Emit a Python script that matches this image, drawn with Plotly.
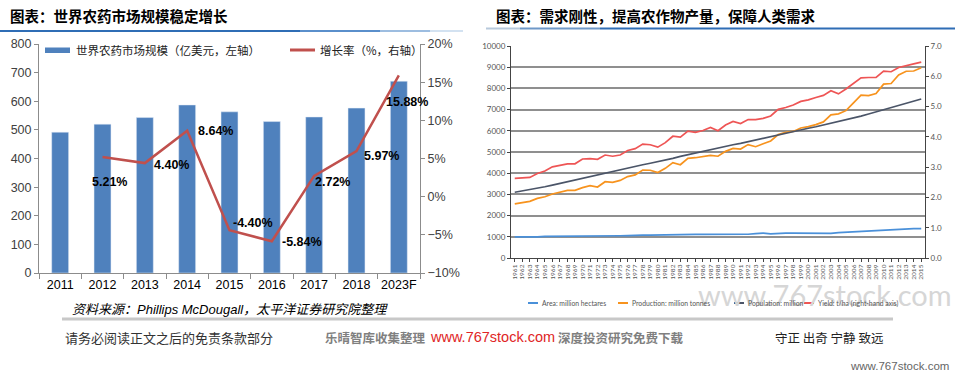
import plotly.graph_objects as go

# ---------------- data: left chart ----------------
left_categories = ["2011", "2012", "2013", "2014", "2015", "2016", "2017", "2018", "2023F"]
market_size = [492, 520, 543, 587, 563, 529, 545, 576, 670]          # 亿美元
growth_categories = ["2012", "2013", "2014", "2015", "2016", "2017", "2018", "2023F"]
growth_rate = [5.21, 4.40, 8.64, -4.40, -5.84, 2.72, 5.97, 15.88]    # %
left_series_names = ["世界农药市场规模（亿美元，左轴）", "增长率（%，右轴）"]

# ---------------- data: right chart ----------------
right_years = [str(y) for y in range(1961, 2016)]
area = [1000, 990, 990, 1000, 1020, 1020, 1020, 1020, 1020, 1020,
        1020, 1030, 1030, 1020, 1050, 1060, 1080, 1080, 1080, 1090,
        1090, 1110, 1110, 1110, 1110, 1110, 1110, 1110, 1140, 1140,
        1140, 1120, 1150, 1170, 1140, 1170, 1170, 1170, 1170, 1160,
        1170, 1190, 1160, 1200, 1220, 1240, 1250, 1270, 1280, 1300,
        1340, 1370, 1390, 1390, 1390]
production = [2550, 2610, 2670, 2810, 2890, 3020, 3100, 3190, 3190, 3320,
              3410, 3350, 3600, 3570, 3660, 3840, 3920, 4150, 4140, 4030,
              4230, 4500, 4400, 4700, 4730, 4780, 4840, 4800, 5030, 5170,
              5140, 5350, 5250, 5390, 5520, 5820, 5930, 5970, 6130, 6200,
              6290, 6420, 6750, 6800, 6950, 7320, 7680, 7660, 7760, 8200,
              8230, 8630, 8810, 8820, 8970]
population = [3100, 3160, 3220, 3290, 3360, 3440, 3520, 3600, 3690, 3780,
              3870, 3950, 4030, 4110, 4190, 4260, 4330, 4400, 4470, 4540,
              4620, 4700, 4790, 4870, 4960, 5050, 5130, 5200, 5270, 5340,
              5410, 5490, 5570, 5650, 5740, 5830, 5900, 5980, 6050, 6120,
              6190, 6270, 6350, 6430, 6510, 6590, 6690, 6790, 6890, 6990,
              7110, 7210, 7310, 7410, 7500]
yield_tha = [2.63, 2.64, 2.66, 2.79, 2.87, 3.01, 3.06, 3.11, 3.11, 3.27,
             3.28, 3.26, 3.40, 3.36, 3.40, 3.55, 3.61, 3.76, 3.74, 3.66,
             3.81, 4.02, 3.99, 4.19, 4.15, 4.21, 4.31, 4.20, 4.39, 4.51,
             4.44, 4.57, 4.57, 4.61, 4.69, 4.91, 4.97, 5.05, 5.17, 5.22,
             5.30, 5.37, 5.52, 5.42, 5.58, 5.78, 5.95, 5.96, 5.96, 6.17,
             6.15, 6.29, 6.36, 6.41, 6.47]
right_series_names = ["Area: million hectares", "Production: million tonnes",
                      "Population: million", "Yield: t/ha (right-hand axis)"]

# ---------------- styling ----------------
W, H = 955, 375
def px(x): return x / W
def py(y): return 1 - y / H

BLUE_BAR = "#4F81BD"
RED_LINE = "#C0504D"
C_AREA, C_PROD, C_POP, C_YIELD = "#4A90D9", "#F7931E", "#4B5568", "#EE5555"
LFONT = "Liberation Sans, Noto Sans CJK SC"
CJK = "Noto Sans CJK SC"
RFONT = "Lato, Noto Sans"

fig = go.Figure()

fig.add_trace(go.Bar(x=left_categories, y=market_size, name=left_series_names[0],
                     marker_color=BLUE_BAR, width=0.4, xaxis="x", yaxis="y",
                     showlegend=False))
fig.add_trace(go.Scatter(x=growth_categories, y=growth_rate, name=left_series_names[1],
                         mode="lines", line=dict(color=RED_LINE, width=2.5),
                         xaxis="x", yaxis="y2", showlegend=False))

for name, vals, col, ax in [(right_series_names[0], area, C_AREA, "y3"),
                            (right_series_names[1], production, C_PROD, "y3"),
                            (right_series_names[2], population, C_POP, "y3"),
                            (right_series_names[3], yield_tha, C_YIELD, "y4")]:
    fig.add_trace(go.Scatter(x=right_years, y=vals, name=name, mode="lines",
                             line=dict(color=col, width=1.7), xaxis="x2", yaxis=ax,
                             showlegend=False))

annotations = []

def txt(x, y, s, size, color="#000", family=CJK, anchor="left", **kw):
    annotations.append(dict(x=px(x), y=py(y), xref="paper", yref="paper", text=s,
                            showarrow=False, xanchor=anchor, yanchor="middle",
                            font=dict(family=family, size=size, color=color, **kw)))

# watermark first (drawn underneath)
txt(954, 294, "www.767stock.com", 29, "#d6d6d6", family="Lato", anchor="right")

# growth labels: category index from the list, pixel offsets
label_shift = [(7, -25), (27, -2), (28, 0), (23, 7), (30, -1), (18, -6), (25, -5), (8, -27)]
for cat, val, (dx, dy) in zip(growth_categories, growth_rate, label_shift):
    annotations.append(dict(x=left_categories.index(cat), y=val, xref="x", yref="y2",
                            text=f"{val:.2f}%", showarrow=False, xshift=dx, yshift=dy,
                            font=dict(family=LFONT, size=12.5, color="#000", weight="bold")))

# titles
txt(8, 15, "图表：世界农药市场规模稳定增长", 14.5, "#000", weight="bold")
txt(494, 15, "图表：需求刚性，提高农作物产量，保障人类需求", 14.5, "#000", weight="bold")

# left legend
txt(74, 50, left_series_names[0], 11.5, "#222")
txt(318, 50, left_series_names[1], 11.5, "#222")

# right legend
rl_x = [(528, C_AREA), (618, C_PROD), (734, C_POP), (804, C_YIELD)]
for (x0, col), name in zip(rl_x, right_series_names):
    txt(x0 + 12, 303, name, 6.8, "#555", family=RFONT)

# footer
txt(70, 309, "<i>资料来源：Phillips McDougall，太平洋证券研究院整理</i>", 13, "#000", family=LFONT)
txt(63, 337, "请务必阅读正文之后的免责条款部分", 13, "#333")
txt(323, 337, "乐晴智库收集整理", 12.5, "#808080", weight="bold")
txt(428, 337, "www.767stock.com", 14.5, "#E02525", family="Liberation Sans")
txt(556, 337, "深度投资研究免费下载", 12.5, "#808080", weight="bold")
txt(773, 337, "守正 出奇 宁静 致远", 12.5, "#222")
txt(951, 366, "www.767stock.com", 11.5, "#666", family="Liberation Sans", anchor="right")

shapes = []
# title underlines (gradient-ish)
segs_left = [(0, 300, "#2F6DB5"), (300, 380, "#5A8FCB"), (380, 430, "#9DBDE0"), (430, 463, "#D3E2F1")]
for a, b, c in segs_left:
    shapes.append(dict(type="line", xref="paper", yref="paper", x0=px(a), x1=px(b),
                       y0=py(31), y1=py(31), line=dict(color=c, width=2)))
segs_right = [(486, 520, "#B8C9DC"), (520, 600, "#6E98C8"), (600, 955, "#2F6DB5")]
for a, b, c in segs_right:
    shapes.append(dict(type="line", xref="paper", yref="paper", x0=px(a), x1=px(b),
                       y0=py(28.5), y1=py(28.5), line=dict(color=c, width=2)))
# left legend symbols
shapes.append(dict(type="rect", xref="paper", yref="paper", x0=px(45), x1=px(70),
                   y0=py(53), y1=py(47.5), fillcolor=BLUE_BAR, line=dict(width=0)))
shapes.append(dict(type="line", xref="paper", yref="paper", x0=px(290), x1=px(315),
                   y0=py(50), y1=py(50), line=dict(color=RED_LINE, width=3)))
# right legend symbols
for x0, col in rl_x:
    shapes.append(dict(type="line", xref="paper", yref="paper", x0=px(x0), x1=px(x0 + 10),
                       y0=py(303), y1=py(303), line=dict(color=col, width=2)))
# footer separator
shapes.append(dict(type="line", xref="paper", yref="paper", x0=px(62), x1=px(893),
                   y0=py(319), y1=py(319), line=dict(color="#C8C8C8", width=3)))

fig.update_layout(
    width=W, height=H, margin=dict(l=0, r=0, t=0, b=0, autoexpand=False),
    paper_bgcolor="white", plot_bgcolor="rgba(0,0,0,0)",
    showlegend=False, bargap=0.6,
    annotations=annotations, shapes=shapes,
    xaxis=dict(domain=[px(39), px(420)], anchor="y", type="category",
               range=[-0.5, len(left_categories) - 0.5], tickangle=0,
               showline=True, linecolor="#8C8C8C", linewidth=1,
               ticks="outside", tickson="boundaries", ticklen=5, tickcolor="#8C8C8C",
               tickfont=dict(family=LFONT, size=12.5, color="#000"), showgrid=False),
    yaxis=dict(domain=[py(273), py(44)], anchor="x", range=[0, 800], dtick=100,
               showgrid=False, showline=True, linecolor="#8C8C8C", ticks="outside",
               ticklen=4, tickcolor="#8C8C8C", zeroline=False,
               tickfont=dict(family=LFONT, size=12.5, color="#404040")),
    yaxis2=dict(overlaying="y", side="right", anchor="x", range=[-10, 20], dtick=5,
                ticksuffix="%", showgrid=False, showline=True, linecolor="#8C8C8C",
                ticks="outside", ticklen=4, tickcolor="#8C8C8C", zeroline=False,
                tickfont=dict(family=LFONT, size=12.5, color="#404040")),
    xaxis2=dict(domain=[px(511), px(925)], anchor="y3", type="category",
                range=[-0.5, len(right_years) - 0.5], tickmode="linear", dtick=1,
                tickangle=-90, showline=True, linecolor="#444", linewidth=1,
                ticks="outside", ticklen=3, tickcolor="#444", showgrid=False,
                tickfont=dict(family=RFONT, size=6.5, color="#555")),
    yaxis3=dict(domain=[py(258), py(46)], anchor="x2", range=[0, 10000], dtick=1000,
                tickformat="d",
                showgrid=True, gridcolor="#8F8F8F", gridwidth=1.5, showline=True,
                linecolor="#444", ticks="outside", ticklen=3, tickcolor="#444",
                zeroline=False, tickfont=dict(family=RFONT, size=8, color="#555")),
    yaxis4=dict(overlaying="y3", side="right", anchor="x2", range=[0, 7], dtick=1,
                tickformat=".1f", showgrid=False, showline=True, linecolor="#444",
                ticks="outside", ticklen=3, tickcolor="#444", zeroline=False,
                tickfont=dict(family=RFONT, size=8, color="#555")),
)

fig.write_html("out.html", config={"displayModeBar": False},
               post_script="document.documentElement.style.margin='0';"
                           "document.body.style.margin='0';document.body.style.padding='0';")
